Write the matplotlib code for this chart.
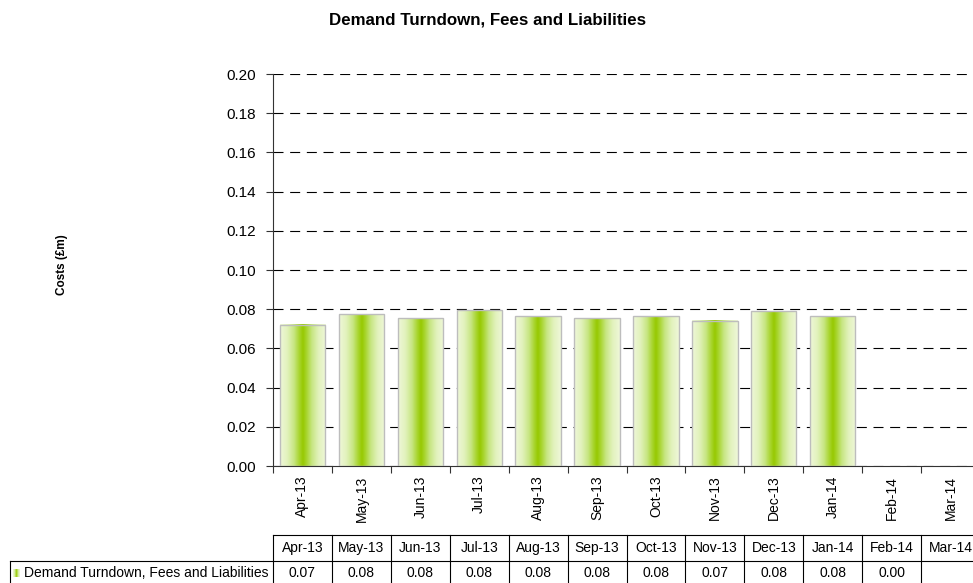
import numpy as np
import matplotlib
matplotlib.use("Agg")
import matplotlib.pyplot as plt
from matplotlib.patches import Rectangle
from matplotlib.transforms import blended_transform_factory
from matplotlib.colors import LinearSegmentedColormap

plt.rcParams['font.family'] = ['Liberation Sans', 'DejaVu Sans']

months = ["Apr-13", "May-13", "Jun-13", "Jul-13", "Aug-13", "Sep-13",
          "Oct-13", "Nov-13", "Dec-13", "Jan-14", "Feb-14", "Mar-14"]
values = [0.072, 0.0775, 0.0755, 0.0795, 0.0765, 0.0755,
          0.0765, 0.074, 0.079, 0.0765, 0.0, None]
series_name = "Demand Turndown, Fees and Liabilities"
title = "Demand Turndown, Fees and Liabilities"
ylabel = "Costs (£m)"
yticks = [0.00, 0.02, 0.04, 0.06, 0.08, 0.10, 0.12, 0.14, 0.16, 0.18, 0.20]

W, H = 973, 583
fig = plt.figure(figsize=(W / 100, H / 100), dpi=100)
ax_left, ax_right, ax_top, ax_bot = 273, 980, 74, 466
ax = fig.add_axes([ax_left / W, 1 - ax_bot / H, (ax_right - ax_left) / W, (ax_bot - ax_top) / H])

n = len(months)

# gradient colormap for bars
cmap = LinearSegmentedColormap.from_list(
    "bar", [(0.0, "#eef7d8"), (0.15, "#e2f2bd"), (0.3, "#c8e684"), (0.42, "#a8d52e"),
            (0.5, "#96c800"), (0.58, "#a8d52e"), (0.7, "#c8e684"), (0.85, "#e2f2bd"),
            (1.0, "#eef7d8")])
grad = np.linspace(0, 1, 64).reshape(1, -1)
bw = 0.77
for i, v in enumerate(values):
    if v is None or v <= 0:
        continue
    ax.imshow(grad, extent=[i - bw / 2, i + bw / 2, 0, v], aspect='auto', cmap=cmap,
              zorder=2, interpolation='bilinear')
    ax.add_patch(Rectangle((i - bw / 2, 0), bw, v, fill=False, edgecolor="#bdbdbd",
                           linewidth=1.0, zorder=3))
ax.set_xlim(-0.5, n - 0.5)
ax.set_ylim(0, 0.20)

# grid
ax.set_yticks(yticks)
ax.set_yticklabels([f"{t:.2f}" for t in yticks], fontsize=11)
ax.yaxis.grid(True, linestyle=(0, (9, 6)), color="black", linewidth=0.8, zorder=1)
ax.set_axisbelow(True)

for s in ["top", "right"]:
    ax.spines[s].set_visible(False)
ax.spines["left"].set_color("#333333")
ax.spines["bottom"].set_color("#333333")

ax.set_xticks(np.arange(-0.5, n, 1.0))
ax.set_xticklabels([])
ax.set_xticks(np.arange(n), minor=True)
ax.set_xticklabels(months, minor=True, rotation=90, fontsize=10)
ax.tick_params(axis='x', which='major', direction='out', length=5, color="#333333")
ax.tick_params(axis='x', which='minor', length=0, pad=7)
ax.tick_params(axis='y', direction='out', length=5, color="#333333", pad=7)

fig.text(488 / W, 1 - 20 / H, title, ha='center', va='center', fontsize=12.2, fontweight='bold')
fig.text(62 / W, 1 - 265 / H, ylabel, ha='center', va='center', rotation=90,
         fontsize=8.5, fontweight='bold')

# data table below
tr = blended_transform_factory(ax.transData, fig.transFigure)
y_h_top = 1 - 535 / H
y_mid = 1 - 561 / H
y_bot = 1 - 588 / H
lw = 0.8
xs = np.arange(-0.5, n + 0.5, 1.0)
fig.add_artist(plt.Line2D([-0.5, n - 0.5], [y_h_top, y_h_top], transform=tr, color='black', lw=lw))
fig.add_artist(plt.Line2D([10 / W, ax_left / W], [y_mid, y_mid], transform=fig.transFigure, color='black', lw=lw))
fig.add_artist(plt.Line2D([-0.5, n - 0.5], [y_mid, y_mid], transform=tr, color='black', lw=lw))
fig.add_artist(plt.Line2D([10 / W, 10 / W], [y_mid, y_bot], transform=fig.transFigure, color='black', lw=lw))
for x in xs:
    fig.add_artist(plt.Line2D([x, x], [y_h_top, y_bot], transform=tr, color='black', lw=lw))
for i, m in enumerate(months):
    fig.text(i, (y_h_top + y_mid) / 2, m, transform=tr, ha='center', va='center', fontsize=10)
    v = values[i]
    if v is not None:
        fig.text(i, 1 - 573 / H, f"{v:.2f}", transform=tr, ha='center', va='center', fontsize=10)

# legend key
kx, ky = 13, 569
sw = fig.add_axes([kx / W, 1 - (ky + 8) / H, 7 / W, 8 / H])
sw.imshow(grad, aspect='auto', cmap=cmap, extent=[0, 1, 0, 1])
sw.set_axis_off()
fig.text(24 / W, 1 - 573 / H, series_name, ha='left', va='center', fontsize=10)

fig.savefig("out.png", dpi=100)
